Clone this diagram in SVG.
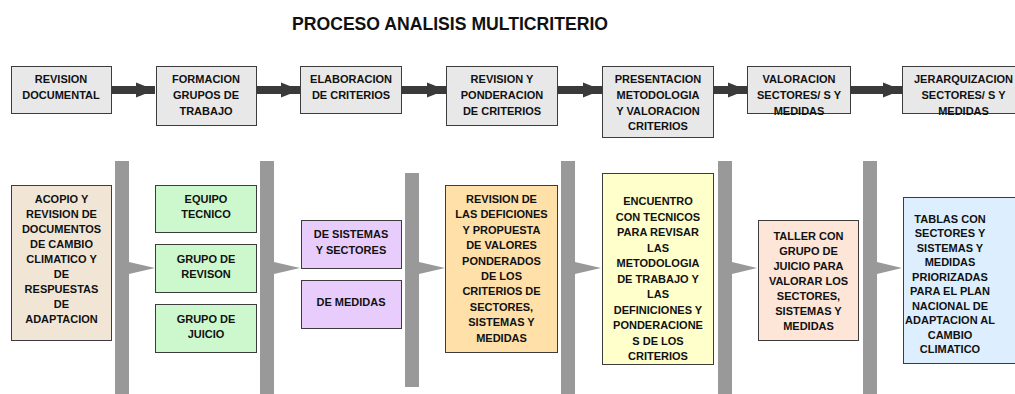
<svg xmlns="http://www.w3.org/2000/svg" width="1015" height="394" viewBox="0 0 1015 394">
<style>
  text { font-family: "Liberation Sans", Arial, sans-serif; font-weight: bold; font-size: 11px; fill: #111; text-anchor: middle; }
  .title { font-size: 19px; text-anchor: start; fill: #111; }
  .box { stroke: #3c3c3c; stroke-width: 1; }
  .top { fill: #e8e8e8; }
  .tan { fill: #f1e6d6; }
  .grn { fill: #cdf8cd; }
  .pur { fill: #e8cdfc; }
  .org { fill: #ffe0a8; }
  .yel { fill: #ffffcc; }
  .pch { fill: #fde6d8; }
  .blu { fill: #ddefff; }
  .pillar { fill: #999999; }
  .shaft { stroke: #3a3a3a; stroke-width: 8; fill: none; }
</style>
<defs>
  <marker id="head" markerUnits="userSpaceOnUse" markerWidth="20" markerHeight="16" refX="19" refY="8" orient="auto">
    <path d="M0,0.5 L19,8 L0,15.5 Z" fill="#3a3a3a"/>
  </marker>
</defs>
<rect width="1015" height="394" fill="#ffffff"/>
<text class="title" x="292" y="30" textLength="316" lengthAdjust="spacingAndGlyphs">PROCESO ANALISIS MULTICRITERIO</text>

<g id="connectors">
  <line class="shaft" x1="111" y1="90" x2="155" y2="90" marker-end="url(#head)"/>
  <line class="shaft" x1="256" y1="90" x2="300" y2="90" marker-end="url(#head)"/>
  <line class="shaft" x1="401" y1="90" x2="446" y2="90" marker-end="url(#head)"/>
  <line class="shaft" x1="557" y1="90" x2="602" y2="90" marker-end="url(#head)"/>
  <line class="shaft" x1="713" y1="90" x2="747" y2="90" marker-end="url(#head)"/>
  <line class="shaft" x1="850" y1="90" x2="902" y2="90" marker-end="url(#head)"/>
  <g id="pillars">
    <rect class="pillar" x="115" y="161" width="14" height="233"/>
    <path class="pillar" d="M129,262 L155,268 L129,274 Z"/>
    <rect class="pillar" x="260" y="161" width="14" height="233"/>
    <path class="pillar" d="M274,262 L300,268 L274,274 Z"/>
    <rect class="pillar" x="405" y="173" width="14" height="214"/>
    <path class="pillar" d="M419,262 L445,268 L419,274 Z"/>
    <rect class="pillar" x="561" y="161" width="14" height="233"/>
    <path class="pillar" d="M575,262 L601,268 L575,274 Z"/>
    <rect class="pillar" x="718" y="161" width="14" height="233"/>
    <path class="pillar" d="M732,262 L757,268 L732,274 Z"/>
    <rect class="pillar" x="863" y="161" width="14" height="233"/>
    <path class="pillar" d="M877,262 L902,268 L877,274 Z"/>
  </g>
</g>

<g id="t1"><rect class="box top" x="11.5" y="66.5" width="100" height="47"/>
  <text x="61" y="83"><tspan x="61">REVISION</tspan><tspan x="61" dy="15.8">DOCUMENTAL</tspan></text></g>
<g id="t2"><rect class="box top" x="156.5" y="66.5" width="100" height="59"/>
  <text x="206" y="83"><tspan x="206">FORMACION</tspan><tspan x="206" dy="15.8">GRUPOS DE</tspan><tspan x="206" dy="15.8">TRABAJO</tspan></text></g>
<g id="t3"><rect class="box top" x="300.5" y="66.5" width="101" height="47"/>
  <text x="351" y="83"><tspan x="351">ELABORACION</tspan><tspan x="351" dy="15.8">DE CRITERIOS</tspan></text></g>
<g id="t4"><rect class="box top" x="446.5" y="66.5" width="111" height="59"/>
  <text x="502" y="83"><tspan x="502">REVISION Y</tspan><tspan x="502" dy="15.8">PONDERACION</tspan><tspan x="502" dy="15.8">DE CRITERIOS</tspan></text></g>
<g id="t5"><rect class="box top" x="602.5" y="66.5" width="111" height="71"/>
  <text x="658" y="83"><tspan x="658">PRESENTACION</tspan><tspan x="658" dy="15.8">METODOLOGIA</tspan><tspan x="658" dy="15.8">Y VALORACION</tspan><tspan x="658" dy="15.8">CRITERIOS</tspan></text></g>
<g id="t6"><rect class="box top" x="747.5" y="66.5" width="103" height="47"/>
  <text x="799" y="83"><tspan x="799">VALORACION</tspan><tspan x="799" dy="15.8">SECTORES/ S Y</tspan><tspan x="799" dy="15.8">MEDIDAS</tspan></text></g>
<g id="t7"><rect class="box top" x="902.5" y="66.5" width="130" height="47"/>
  <text x="963.5" y="83"><tspan x="963.5">JERARQUIZACION</tspan><tspan x="963.5" dy="15.8">SECTORES/ S Y</tspan><tspan x="963.5" dy="15.8">MEDIDAS</tspan></text></g>

<g id="b1"><rect class="box tan" x="11.5" y="185.5" width="100" height="155"/>
  <text y="203.3"><tspan x="61.5">ACOPIO Y</tspan><tspan x="61.5" dy="15">REVISION DE</tspan><tspan x="61.5" dy="15">DOCUMENTOS</tspan><tspan x="61.5" dy="15">DE CAMBIO</tspan><tspan x="61.5" dy="15">CLIMATICO Y</tspan><tspan x="61.5" dy="15">DE</tspan><tspan x="61.5" dy="15">RESPUESTAS</tspan><tspan x="61.5" dy="15">DE</tspan><tspan x="61.5" dy="15">ADAPTACION</tspan></text></g>

<g id="g1"><rect class="box grn" x="155.5" y="185.5" width="101" height="47"/>
  <text y="202.7"><tspan x="206">EQUIPO</tspan><tspan x="206" dy="15.6">TECNICO</tspan></text></g>
<g id="g2"><rect class="box grn" x="155.5" y="244.5" width="101" height="48"/>
  <text y="262.7"><tspan x="206">GRUPO DE</tspan><tspan x="206" dy="15.6">REVISON</tspan></text></g>
<g id="g3"><rect class="box grn" x="155.5" y="304.5" width="101" height="48"/>
  <text y="322.7"><tspan x="206">GRUPO DE</tspan><tspan x="206" dy="15.6">JUICIO</tspan></text></g>

<g id="p1"><rect class="box pur" x="301.5" y="220.5" width="100" height="48"/>
  <text y="237.7"><tspan x="351">DE SISTEMAS</tspan><tspan x="351" dy="16">Y SECTORES</tspan></text></g>
<g id="p2"><rect class="box pur" x="301.5" y="280.5" width="100" height="48"/>
  <text x="351" y="306.2">DE MEDIDAS</text></g>

<g id="o1"><rect class="box org" x="445.5" y="185.5" width="112" height="167"/>
  <text y="202.8"><tspan x="501.5">REVISION DE</tspan><tspan x="501.5" dy="15.44">LAS DEFICIONES</tspan><tspan x="501.5" dy="15.44">Y PROPUESTA</tspan><tspan x="501.5" dy="15.44">DE VALORES</tspan><tspan x="501.5" dy="15.44">PONDERADOS</tspan><tspan x="501.5" dy="15.44">DE LOS</tspan><tspan x="501.5" dy="15.44">CRITERIOS DE</tspan><tspan x="501.5" dy="15.44">SECTORES,</tspan><tspan x="501.5" dy="15.44">SISTEMAS Y</tspan><tspan x="501.5" dy="15.44">MEDIDAS</tspan></text></g>

<g id="y1"><rect class="box yel" x="602.5" y="173.5" width="111" height="191"/>
  <text y="205.2"><tspan x="658">ENCUENTRO</tspan><tspan x="658" dy="15.5">CON TECNICOS</tspan><tspan x="658" dy="15.5">PARA REVISAR</tspan><tspan x="658" dy="15.5">LAS</tspan><tspan x="658" dy="15.5">METODOLOGIA</tspan><tspan x="658" dy="15.5">DE TRABAJO Y</tspan><tspan x="658" dy="15.5">LAS</tspan><tspan x="658" dy="15.5">DEFINICIONES Y</tspan><tspan x="658" dy="15.5">PONDERACIONE</tspan><tspan x="658" dy="15.5">S DE LOS</tspan><tspan x="658" dy="15.5">CRITERIOS</tspan></text></g>

<g id="pc1"><rect class="box pch" x="758.5" y="220.5" width="100" height="120"/>
  <text y="239.5"><tspan x="808.5">TALLER CON</tspan><tspan x="808.5" dy="15.1">GRUPO DE</tspan><tspan x="808.5" dy="15.1">JUICIO PARA</tspan><tspan x="808.5" dy="15.1">VALORAR LOS</tspan><tspan x="808.5" dy="15.1">SECTORES,</tspan><tspan x="808.5" dy="15.1">SISTEMAS Y</tspan><tspan x="808.5" dy="15.1">MEDIDAS</tspan></text></g>

<g id="bl1"><rect class="box blu" x="903.5" y="197.5" width="130" height="166"/>
  <text y="222.8"><tspan x="950">TABLAS CON</tspan><tspan x="950" dy="14.5">SECTORES Y</tspan><tspan x="950" dy="14.5">SISTEMAS Y</tspan><tspan x="950" dy="14.5">MEDIDAS</tspan><tspan x="950" dy="14.5">PRIORIZADAS</tspan><tspan x="950" dy="14.5">PARA EL PLAN</tspan><tspan x="950" dy="14.5">NACIONAL DE</tspan><tspan x="950" dy="14.5">ADAPTACION AL</tspan><tspan x="950" dy="14.5">CAMBIO</tspan><tspan x="950" dy="14.5">CLIMATICO</tspan></text></g>
</svg>
